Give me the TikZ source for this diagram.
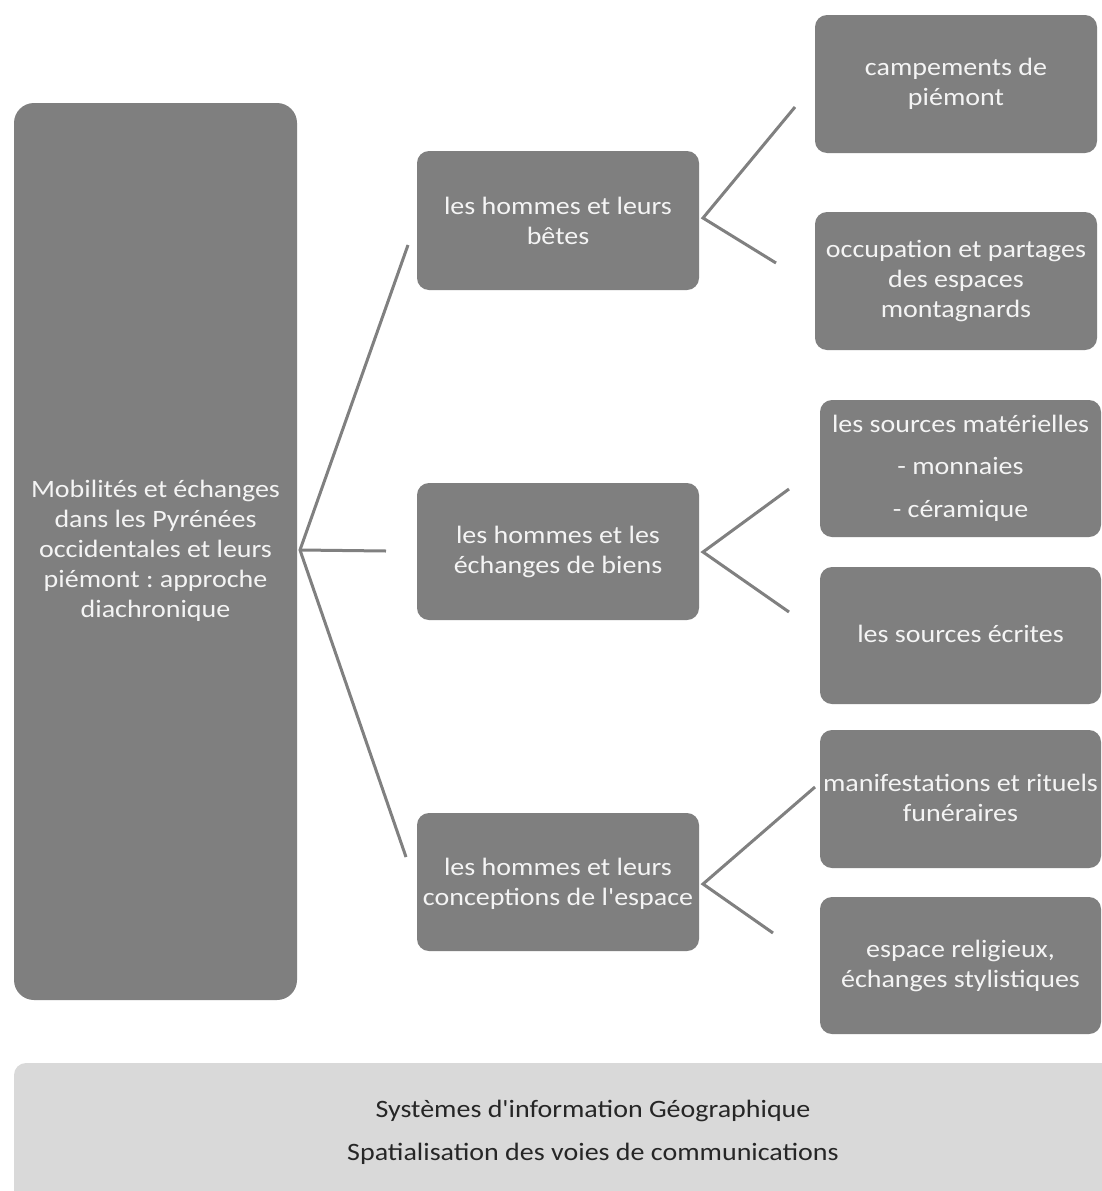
\documentclass[tikz,border=0pt]{standalone}
\usepackage{fontspec}
\setmainfont[FakeStretch=1.12, Ligatures=TeXOff]{Carlito}
\frenchspacing
\definecolor{boxgray}{HTML}{7F7F7F}
\definecolor{linegray}{HTML}{808080}
\definecolor{lightbar}{HTML}{D9D9D9}
\definecolor{boxtext}{HTML}{F4F4F4}
\definecolor{bartext}{HTML}{262626}
\tikzset{
  box/.style={fill=boxgray, rounded corners=12pt, inner sep=0pt},
  lbl/.style={text=boxtext, align=center, font=\fontsize{25}{30}\selectfont, inner sep=0pt},
  barlbl/.style={text=bartext, align=center, font=\fontsize{25}{43}\selectfont, inner sep=0pt},
  conn/.style={draw=linegray, line width=3pt}
}
\begin{document}
\begin{tikzpicture}[x=1pt,y=-1pt]
\clip (0,0) rectangle (1102,1191);
\fill[white] (0,0) rectangle (1102,1191);
% root
\node[box, rounded corners=20pt, minimum width=283pt, minimum height=897pt] (root) at (155.5,551.5) {};
\node[lbl] (troot) at (155.5,551) {Mobilités et échanges\\dans les Pyrénées\\occidentales et leurs\\piémont : approche\\diachronique};
% middle
\node[box, minimum width=282pt, minimum height=139pt] (m1) at (558,220.5) {};
\node[lbl] (tm1) at (558,221) {les hommes et leurs\\bêtes};
\node[box, minimum width=282pt, minimum height=137pt] (m2) at (558,551.5) {};
\node[lbl] (tm2) at (558,552) {les hommes et les\\échanges de biens};
\node[box, minimum width=282pt, minimum height=138pt] (m3) at (558,882) {};
\node[lbl] (tm3) at (558,884) {les hommes et leurs\\conceptions de l'espace};
% right
\node[box, minimum width=282pt, minimum height=138pt] (r1) at (956,84) {};
\node[lbl] (tr1) at (956,84) {campements de\\piémont};
\node[box, minimum width=282pt, minimum height=138pt] (r2) at (956,281) {};
\node[lbl] (tr2) at (956,281) {occupation et partages\\des espaces\\montagnards};
\node[box, minimum width=281pt, minimum height=137pt] (r3) at (960.5,468.5) {};
\node[lbl, font=\fontsize{25}{42.5}\selectfont] (tr3) at (960.5,468) {les sources matérielles\\- monnaies\\- céramique};
\node[box, minimum width=281pt, minimum height=137pt] (r4) at (960.5,635.5) {};
\node[lbl] (tr4) at (960.5,634) {les sources écrites};
\node[box, minimum width=281pt, minimum height=138pt] (r5) at (960.5,799) {};
\node[lbl] (tr5) at (960.5,798) {manifestations et rituels\\funéraires};
\node[box, minimum width=281pt, minimum height=137pt] (r6) at (960.5,965.5) {};
\node[lbl] (tr6) at (960.5,966) {espace religieux,\\échanges stylistiques};
% bottom bar
\fill[lightbar, rounded corners=12pt] (14,1220) -- (14,1063) -- (1130,1063) -- (1130,1220) -- cycle;
\node[barlbl] (bar) at (593,1132) {Systèmes d'information Géographique\\Spatialisation des voies de communications};
% connectors
\coordinate (j0) at (300,550);
\coordinate (e1) at (408,245);
\coordinate (e2) at (386,551);
\coordinate (e3) at (406,857);
\draw[conn] (e1) -- (j0) -- (e3);
\draw[conn] (j0) -- (e2);
\coordinate (j1) at (703,218);
\coordinate (f1) at (795,107);
\coordinate (f2) at (776,263);
\draw[conn] (f1) -- (j1) -- (f2);
\coordinate (j2) at (703,552);
\coordinate (g1) at (789,489);
\coordinate (g2) at (789,612);
\draw[conn] (g1) -- (j2) -- (g2);
\coordinate (j3) at (703,884);
\coordinate (h1) at (815,787);
\coordinate (h2) at (773,933);
\draw[conn] (h1) -- (j3) -- (h2);
\end{tikzpicture}
\end{document}
